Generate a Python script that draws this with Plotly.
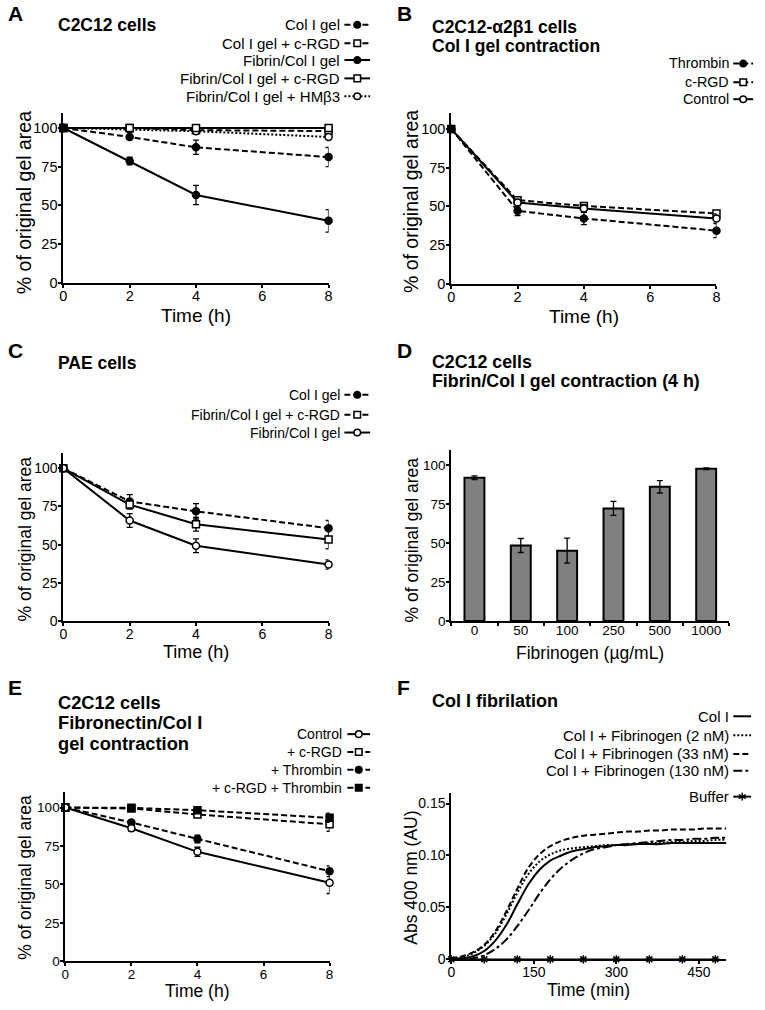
import plotly.graph_objects as go

W, H = 765, 1010
FONT = "Liberation Sans, Arial, sans-serif"

# ---------------- data ----------------
time_h = [0, 2, 4, 8]

# Panel A - C2C12 cells
a_labels = ["Col I gel", "Col I gel + c-RGD", "Fibrin/Col I gel",
            "Fibrin/Col I gel + c-RGD", "Fibrin/Col I gel + HMβ3"]
a_colgel = [100, 94.2, 87.5, 81.2]
a_colgel_err = [0, 1.5, 4.6, 6.2]
a_colgel_rgd = [100, 100, 98.6, 98.0]
a_colgel_rgd_err = [0, 0.5, 0.8, 1.0]
a_fib = [100, 78.6, 56.7, 40.0]
a_fib_err = [0, 2.5, 6.2, 7.3]
a_fib_rgd = [100, 100, 100, 100]
a_fib_rgd_err = [0, 0.5, 0.5, 0.8]
a_fib_hm = [100, 99.0, 97.9, 94.2]
a_fib_hm_err = [0, 0.5, 1.0, 1.5]

# Panel B - C2C12-a2b1 cells
b_labels = ["Thrombin", "c-RGD", "Control"]
b_thrombin = [100, 47.1, 42.2, 34.3]
b_thrombin_err = [0, 3.0, 4.0, 4.5]
b_rgd = [100, 54.0, 50.3, 45.4]
b_rgd_err = [0, 2.0, 2.0, 1.5]
b_control = [100, 52.5, 48.6, 42.2]
b_control_err = [0, 2.0, 2.5, 3.0]

# Panel C - PAE cells
c_labels = ["Col I gel", "Fibrin/Col I gel + c-RGD", "Fibrin/Col I gel"]
c_colgel = [100, 78.3, 71.8, 60.8]
c_colgel_err = [0, 4.5, 5.0, 5.0]
c_fib_rgd = [100, 76.2, 63.4, 53.3]
c_fib_rgd_err = [0, 3.0, 4.5, 6.0]
c_fib = [100, 65.8, 49.3, 37.0]
c_fib_err = [0, 4.5, 4.5, 3.0]

# Panel D - bars
d_fibrinogen = ["0", "50", "100", "250", "500", "1000"]
d_values = [92, 48.5, 45.2, 72.3, 86.2, 97.8]
d_err = [1.2, 4.5, 8.0, 4.5, 4.0, 0.5]

# Panel E - fibronectin/Col I
e_labels = ["Control", "+ c-RGD", "+ Thrombin", "+ c-RGD + Thrombin"]
e_control = [100, 86.5, 71.2, 51.1]
e_control_err = [0, 2.0, 3.0, 7.0]
e_rgd = [100, 99.4, 95.5, 89.1]
e_rgd_err = [0, 1.0, 1.5, 4.5]
e_thrombin = [100, 90.3, 79.6, 58.6]
e_thrombin_err = [0, 1.5, 2.5, 3.5]
e_rgd_thrombin = [100, 99.8, 98.3, 93.3]
e_rgd_thrombin_err = [0, 1.0, 1.0, 3.0]

# Panel F - Col I fibrilation
f_labels = ["Col I", "Col I + Fibrinogen (2 nM)", "Col I + Fibrinogen (33 nM)",
            "Col I + Fibrinogen (130 nM)", "Buffer"]
f_time = [0, 20, 40, 60, 80, 100, 120, 140, 160, 180, 200, 220, 240, 260,
          280, 300, 320, 340, 360, 380, 400, 420, 440, 460, 480, 500]
f_col = [0.001, 0.001, 0.003, 0.008, 0.018, 0.033, 0.053, 0.072, 0.086, 0.095,
         0.100, 0.104, 0.106, 0.108, 0.109, 0.110, 0.110, 0.111, 0.111, 0.111,
         0.112, 0.112, 0.112, 0.112, 0.112, 0.112]
f_2nm = [0.001, 0.002, 0.006, 0.013, 0.025, 0.043, 0.064, 0.082, 0.094, 0.101,
         0.105, 0.107, 0.108, 0.109, 0.110, 0.110, 0.111, 0.111, 0.112, 0.112,
         0.113, 0.113, 0.114, 0.114, 0.115, 0.115]
f_33nm = [0.001, 0.003, 0.007, 0.014, 0.027, 0.046, 0.068, 0.088, 0.101, 0.109,
          0.114, 0.117, 0.119, 0.120, 0.121, 0.122, 0.123, 0.123, 0.124, 0.124,
          0.125, 0.125, 0.125, 0.126, 0.126, 0.126]
f_130nm = [0.000, 0.000, 0.001, 0.004, 0.010, 0.019, 0.032, 0.047, 0.063, 0.077,
           0.088, 0.096, 0.102, 0.106, 0.108, 0.110, 0.111, 0.112, 0.113, 0.114,
           0.115, 0.115, 0.116, 0.116, 0.117, 0.117]
f_buffer_time = [0, 60, 120, 180, 240, 300, 360, 420, 480]
f_buffer = [0, 0, 0, 0, 0, 0, 0, 0, 0]

# ---------------- helpers ----------------
def px(x):
    return x / W


def py(y):
    return 1 - y / H


DASH = "6px,3px"
DOT = "2px,2px"
MS = 7


def mk(kind):
    if kind == "fc":
        return dict(symbol="circle", size=MS, color="black", line=dict(color="black", width=1.5))
    if kind == "oc":
        return dict(symbol="circle", size=MS, color="white", line=dict(color="black", width=1.5))
    if kind == "os":
        return dict(symbol="square", size=MS, color="white", line=dict(color="black", width=1.5))
    if kind == "fs":
        return dict(symbol="square", size=MS, color="black", line=dict(color="black", width=1.5))
    return None


fig = go.Figure()


def line_trace(ax, y, err, dash, kind, name):
    fig.add_trace(go.Scatter(
        x=time_h, y=y, name=name, mode="lines+markers",
        xaxis="x" + ax, yaxis="y" + ax,
        line=dict(color="black", width=2, dash=dash),
        marker=mk(kind),
        error_y=dict(type="data", array=err, color="black", thickness=1.3, width=3),
        cliponaxis=False, showlegend=False))


# Panel A
line_trace("", a_colgel_rgd, a_colgel_rgd_err, DASH, "os", a_labels[1])
line_trace("", a_fib_hm, a_fib_hm_err, DOT, "oc", a_labels[4])
line_trace("", a_fib_rgd, a_fib_rgd_err, "solid", "os", a_labels[3])
line_trace("", a_colgel, a_colgel_err, DASH, "fc", a_labels[0])
line_trace("", a_fib, a_fib_err, "solid", "fc", a_labels[2])

# Panel B
line_trace("2", b_rgd, b_rgd_err, DASH, "os", b_labels[1])
line_trace("2", b_control, b_control_err, "solid", "oc", b_labels[2])
line_trace("2", b_thrombin, b_thrombin_err, DASH, "fc", b_labels[0])

# Panel C
line_trace("3", c_colgel, c_colgel_err, DASH, "fc", c_labels[0])
line_trace("3", c_fib_rgd, c_fib_rgd_err, "solid", "os", c_labels[1])
line_trace("3", c_fib, c_fib_err, "solid", "oc", c_labels[2])

# Panel D
fig.add_trace(go.Bar(
    x=d_fibrinogen, y=d_values, xaxis="x4", yaxis="y4", width=0.43,
    marker=dict(color="#808080", line=dict(color="black", width=2)),
    error_y=dict(type="data", array=d_err, color="black", thickness=1.3, width=3),
    showlegend=False))

# Panel E
line_trace("5", e_rgd, e_rgd_err, DASH, "os", e_labels[1])
line_trace("5", e_rgd_thrombin, e_rgd_thrombin_err, DASH, "fs", e_labels[3])
line_trace("5", e_thrombin, e_thrombin_err, DASH, "fc", e_labels[2])
line_trace("5", e_control, e_control_err, "solid", "oc", e_labels[0])

# Panel F
for yv, dash, nm in [(f_130nm, "dashdot", f_labels[3]), (f_2nm, DOT, f_labels[1]),
                     (f_33nm, DASH, f_labels[2]), (f_col, "solid", f_labels[0])]:
    fig.add_trace(go.Scatter(x=f_time, y=yv, name=nm, mode="lines", xaxis="x6", yaxis="y6",
                             line=dict(color="black", width=2, dash=dash, shape="spline"),
                             showlegend=False, cliponaxis=False))
fig.add_trace(go.Scatter(x=f_buffer_time, y=f_buffer, name=f_labels[4], mode="lines+markers",
                         xaxis="x6", yaxis="y6",
                         line=dict(color="black", width=1.5),
                         marker=dict(symbol="asterisk-open", size=7, line=dict(color="black", width=1.5)),
                         showlegend=False, cliponaxis=False))

# ---------------- axes ----------------
base = dict(showline=True, linecolor="black", linewidth=2, ticks="outside", ticklen=3,
            tickwidth=1.5, tickcolor="black", showgrid=False, zeroline=False, fixedrange=True)

panels = {
    "": dict(x=(60, 328), y=(285, 113.4), fs=14.5),
    "2": dict(x=(452, 720), y=(286, 114.4), fs=14.5),
    "3": dict(x=(60, 328), y=(626, 456.6), fs=14),
    "4": dict(x=(452, 733), y=(626, 453.3), fs=13.5),
    "5": dict(x=(62, 329), y=(969, 798.5), fs=13.5),
    "6": dict(x=(452, 730), y=(967, 799.5), fs=14),
}
layout_axes = {}
for k, p in panels.items():
    tf = dict(family=FONT, size=p["fs"], color="black")
    xa = dict(base, domain=[px(p["x"][0]), px(p["x"][1])], anchor="y" + k,
              ticklabelstandoff=-4, tickfont=tf)
    ya = dict(base, domain=[py(p["y"][0]), py(p["y"][1])], anchor="x" + k,
              ticklabelstandoff=-2, tickfont=tf)
    if k in ("", "2", "3", "5"):
        xa.update(range=[0, 8], tickvals=[0, 2, 4, 6, 8])
        ya.update(range=[0, 110], tickvals=[0, 25, 50, 75, 100])
    elif k == "4":
        xa.update(type="category", range=[-0.5, 5.5], tickson="boundaries")
        ya.update(range=[0, 110], tickvals=[0, 25, 50, 75, 100])
    else:
        xa.update(range=[0, 500], tickvals=[0, 150, 300, 450])
        ya.update(range=[0, 0.16], tickvals=[0, 0.05, 0.10, 0.15],
                  ticktext=["0", "0.05", "0.10", "0.15"])
    layout_axes["xaxis" + k] = xa
    layout_axes["yaxis" + k] = ya

fig.update_layout(**layout_axes)

# ---------------- text ----------------
ann = []
shapes = []


def text(x, y, s, size=14, bold=False, anchor="left", angle=0, yanchor="middle"):
    ann.append(dict(x=px(x), y=py(y), xref="paper", yref="paper", text=("<b>%s</b>" % s) if bold else s,
                    showarrow=False, xanchor=anchor, yanchor=yanchor, textangle=angle, borderpad=0,
                    font=dict(family=FONT, size=size, color="black")))


# panel letters
for lt, x, y in [("A", 3, 14), ("B", 396, 14), ("C", 3, 353), ("D", 396, 353), ("E", 3, 693), ("F", 396, 693)]:
    text(x, y, lt, size=21, bold=True)

# titles
text(54, 25, "C2C12 cells", size=17.5, bold=True)
text(432, 27, "C2C12-α2β1 cells", size=17.5, bold=True)
text(432, 46, "Col I gel contraction", size=17.5, bold=True)
text(54, 366, "PAE cells", size=17.5, bold=True)
text(432, 365, "C2C12 cells", size=17.8, bold=True)
text(432, 384, "Fibrin/Col I gel contraction (4 h)", size=17.8, bold=True)
text(54, 708, "C2C12 cells", size=18.3, bold=True)
text(54, 728, "Fibronectin/Col I", size=18.3, bold=True)
text(54, 749, "gel contraction", size=18.3, bold=True)
text(432, 707, "Col I fibrilation", size=18, bold=True)

# axis titles
YT = "% of original gel area"
text(21, 204, YT, size=19.5, anchor="center", angle=-90)
text(412, 203, YT, size=19.5, anchor="center", angle=-90)
text(21, 543, YT, size=17.5, anchor="center", angle=-90)
text(412, 544, YT, size=17.5, anchor="center", angle=-90)
text(21, 884, YT, size=17.5, anchor="center", angle=-90)
text(411, 885, "Abs 400 nm (AU)", size=17.5, anchor="center", angle=-90)
text(194, 318, "Time (h)", size=19, anchor="center")
text(586, 319, "Time (h)", size=19, anchor="center")
text(194, 657, "Time (h)", size=18, anchor="center")
text(592, 658, "Fibrinogen (µg/mL)", size=17.5, anchor="center")
text(196, 999, "Time (h)", size=17.5, anchor="center")
text(591, 998, "Time (min)", size=17.5, anchor="center")


# custom legends (text then key, right aligned)
def key(x0, x1, y, dash, kind):
    shapes.append(dict(type="line", xref="paper", yref="paper", x0=px(x0), x1=px(x1), y0=py(y), y1=py(y),
                       line=dict(color="black", width=2, dash=dash)))
    cx = (x0 + x1) / 2
    r = 3.3
    if kind in ("fc", "oc"):
        shapes.append(dict(type="circle", xref="paper", yref="paper", x0=px(cx - r), x1=px(cx + r),
                           y0=py(y - r), y1=py(y + r), fillcolor="black" if kind == "fc" else "white",
                           line=dict(color="black", width=1.5)))
    elif kind in ("fs", "os"):
        shapes.append(dict(type="rect", xref="paper", yref="paper", x0=px(cx - r), x1=px(cx + r),
                           y0=py(y - r), y1=py(y + r), fillcolor="black" if kind == "fs" else "white",
                           line=dict(color="black", width=1.5)))
    elif kind == "ast":
        for dx, dy in [(0, 4), (3.5, 2), (3.5, -2)]:
            shapes.append(dict(type="line", xref="paper", yref="paper", x0=px(cx - dx), x1=px(cx + dx),
                               y0=py(y - dy), y1=py(y + dy), line=dict(color="black", width=1.5)))


def legend(rows, tx, k0, k1, size):
    for label, y, dash, kind in rows:
        text(tx, y, label, size=size, anchor="right")
        key(k0, k1, y, dash, kind)


legend([(a_labels[0], 25, DASH, "fc"), (a_labels[1], 43.5, DASH, "os"), (a_labels[2], 60.5, "solid", "fc"),
        (a_labels[3], 79, "solid", "os"), (a_labels[4], 97, DOT, "oc")], 341, 344, 370, 15)
legend([(b_labels[0], 64, DASH, "fc"), (b_labels[1], 83, DASH, "os"), (b_labels[2], 100, "solid", "oc")],
       734, 737, 757, 14.3)
legend([(c_labels[0], 398, DASH, "fc"), (c_labels[1], 418, DASH, "os"), (c_labels[2], 436, "solid", "oc")],
       341, 344, 370, 14)
legend([(e_labels[0], 740, "solid", "oc"), (e_labels[1], 758, DASH, "os"), (e_labels[2], 776, DASH, "fc"),
        (e_labels[3], 794, DASH, "fs")], 343, 347, 370, 14)
legend([(f_labels[0], 722, "solid", None), (f_labels[1], 741, DOT, None), (f_labels[2], 760, DASH, None),
        (f_labels[3], 777, "dashdot", None), (f_labels[4], 803, "solid", "ast")], 734, 737, 755, 15)

fig.update_layout(width=W, height=H, margin=dict(l=0, r=0, t=0, b=0),
                  paper_bgcolor="white", plot_bgcolor="white",
                  annotations=ann, shapes=shapes, showlegend=False,
                  font=dict(family=FONT, color="black"))

fig.write_html("out.html", config=dict(displayModeBar=False),
               post_script="document.body.style.margin='0';document.body.style.overflow='hidden';")
